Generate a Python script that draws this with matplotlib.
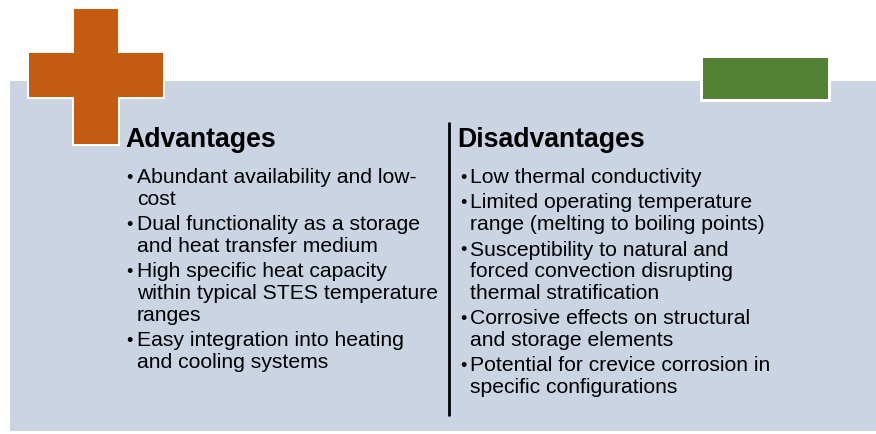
import matplotlib.pyplot as plt
from matplotlib.patches import Rectangle

plt.rcParams['font.family'] = ['Liberation Sans', 'DejaVu Sans']

# headings and bullet items (line breaks as in the picture)
headings = ["Advantages", "Disadvantages"]
advantages = [
    ["Abundant availability and low-", "cost"],
    ["Dual functionality as a storage", "and heat transfer medium"],
    ["High specific heat capacity", "within typical STES temperature", "ranges"],
    ["Easy integration into heating", "and cooling systems"],
]
disadvantages = [
    ["Low thermal conductivity"],
    ["Limited operating temperature", "range (melting to boiling points)"],
    ["Susceptibility to natural and", "forced convection disrupting", "thermal stratification"],
    ["Corrosive effects on structural", "and storage elements"],
    ["Potential for crevice corrosion in", "specific configurations"],
]

W, H = 876, 435
fig = plt.figure(figsize=(W / 100, H / 100), dpi=100)
ax = fig.add_axes([0, 0, 1, 1])
ax.set_xlim(0, W)
ax.set_ylim(H, 0)
ax.axis('off')

# background panel
ax.add_patch(Rectangle((10, 82), W - 10, 350, facecolor='#CAD4E3', edgecolor='none'))

# plus sign with thin white outline
orange = '#C55A11'
ax.add_patch(Rectangle((72, 8), 48, 139, facecolor='white', edgecolor='none'))
ax.add_patch(Rectangle((27, 52), 138, 48, facecolor='white', edgecolor='none'))
ax.add_patch(Rectangle((74, 10), 44, 135, facecolor=orange, edgecolor='none'))
ax.add_patch(Rectangle((29, 54), 134, 44, facecolor=orange, edgecolor='none'))

# minus sign (green bar)
ax.add_patch(Rectangle((700, 57), 131, 46, facecolor='white', edgecolor='none'))
ax.add_patch(Rectangle((703, 59), 125, 41, facecolor='#548235', edgecolor='none'))

# divider
ax.plot([449, 449], [123, 417], color='black', lw=2, solid_capstyle='butt')

cols = [(125, 126, 137, advantages), (457, 460, 470, disadvantages)]
for (hx, bx, tx, items), head in zip(cols, headings):
    ax.text(hx, 140, head, fontsize=19.2, fontweight='bold', va='center', ha='left')
    y = 178
    for item in items:
        ax.text(bx, y + 1, "\u2022", fontsize=13, va='center', ha='left')
        for line in item:
            ax.text(tx, y, line, fontsize=15.2, va='center', ha='left')
            y += 22
        y += 3

fig.savefig('out.png', dpi=100)
